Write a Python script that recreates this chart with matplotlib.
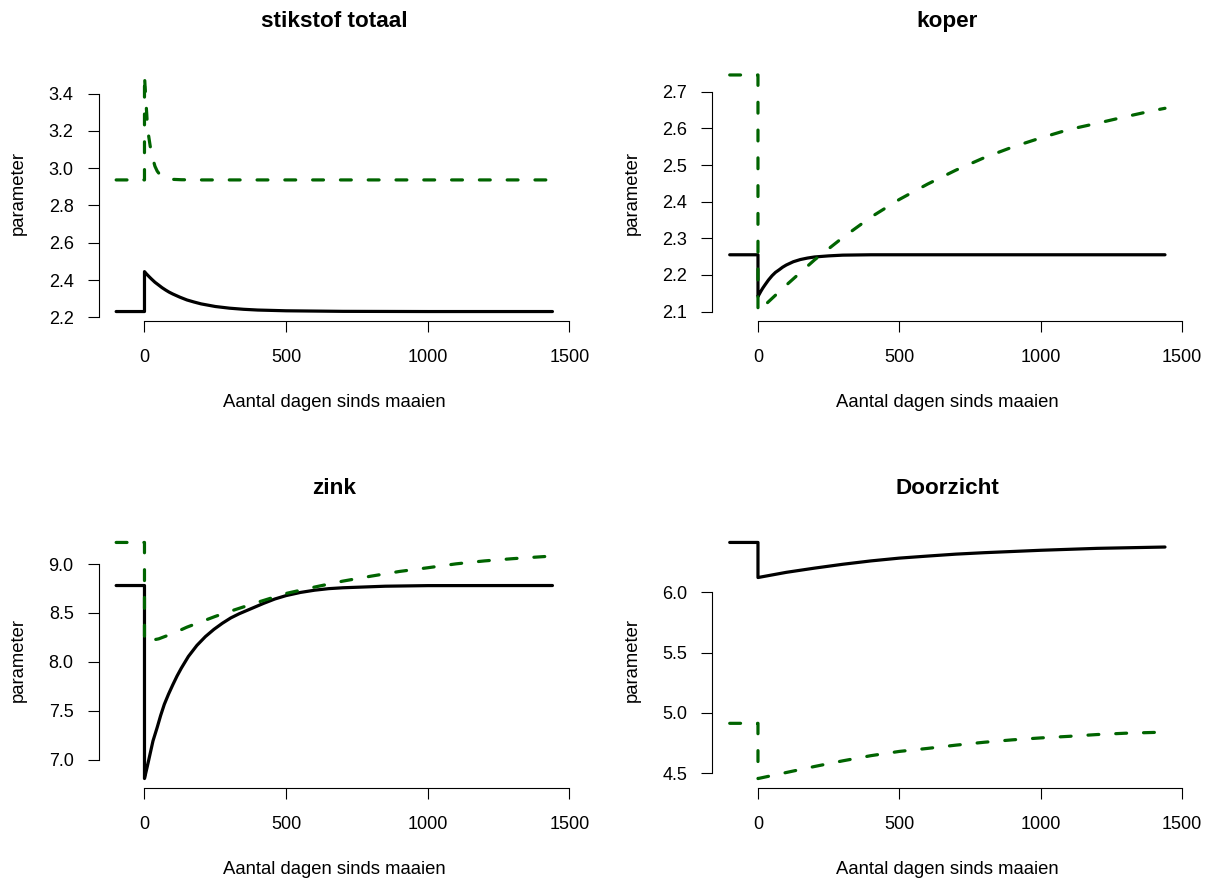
import matplotlib
matplotlib.use("Agg")
import matplotlib.pyplot as plt
from matplotlib.transforms import ScaledTranslation

plt.rcParams['font.family'] = ['Liberation Sans', 'DejaVu Sans']

# ---------------- data ----------------
titles = ["stikstof totaal", "koper", "zink", "Doorzicht"]
xlabel_text = "Aantal dagen sinds maaien"
ylabel_text = "parameter"
xticks = [0, 500, 1000, 1500]

# stikstof totaal
n_black_x = [-100, 0, 0, 5, 10, 17, 25, 37, 50, 62, 75, 87, 100, 125, 150, 175, 200, 250,
             300, 350, 400, 500, 700, 1000, 1440]
n_black_y = [2.231, 2.231, 2.445, 2.436, 2.428, 2.417, 2.405, 2.388, 2.373, 2.359, 2.346,
             2.335, 2.325, 2.308, 2.293, 2.282, 2.272, 2.258, 2.249, 2.243, 2.239, 2.235,
             2.232, 2.231, 2.231]
n_green_x = [-100, 0, 0, 3, 5, 8, 10, 15, 20, 25, 30, 37, 45, 52, 60, 70, 80, 100, 130,
             200, 1440]
n_green_y = [2.937, 2.937, 3.500, 3.410, 3.360, 3.290, 3.235, 3.170, 3.120, 3.080, 3.048,
             3.010, 2.984, 2.970, 2.958, 2.950, 2.944, 2.940, 2.938, 2.937, 2.937]
n_yticks = [2.2, 2.4, 2.6, 2.8, 3.0, 3.2, 3.4]

# koper
c_black_x = [-100, 0, 0, 5, 10, 17, 25, 37, 50, 62, 75, 87, 100, 125, 150, 175, 200, 250,
             300, 400, 1440]
c_black_y = [2.255, 2.255, 2.141, 2.148, 2.155, 2.164, 2.173, 2.186, 2.198, 2.207, 2.214,
             2.221, 2.227, 2.236, 2.242, 2.246, 2.249, 2.252, 2.254, 2.255, 2.255]
c_green_x = [-100, 0, 0, 100, 200, 300, 400, 500, 600, 700, 800, 900, 1000, 1100, 1200,
             1300, 1400, 1440]
c_green_y = [2.746, 2.746, 2.100, 2.172, 2.241, 2.302, 2.358, 2.406, 2.448, 2.486, 2.520,
             2.549, 2.574, 2.597, 2.614, 2.632, 2.649, 2.655]
c_yticks = [2.1, 2.2, 2.3, 2.4, 2.5, 2.6, 2.7]

# zink
z_black_x = [-100, 0, 0, 10, 20, 30, 45, 57, 70, 85, 100, 115, 130, 155, 185, 215, 245,
             275, 305, 335, 365, 420, 460, 500, 550, 600, 650, 700, 850, 1000, 1440]
z_black_y = [8.781, 8.781, 6.805, 6.930, 7.060, 7.190, 7.330, 7.450, 7.565, 7.670, 7.765,
             7.855, 7.935, 8.055, 8.168, 8.258, 8.332, 8.395, 8.450, 8.493, 8.530, 8.598,
             8.643, 8.678, 8.710, 8.733, 8.749, 8.758, 8.774, 8.780, 8.781]
z_green_x = [-100, 0, 0, 50, 100, 150, 200, 250, 300, 400, 500, 600, 700, 800, 900, 1000,
             1100, 1200, 1300, 1440]
z_green_y = [9.222, 9.222, 8.207, 8.235, 8.290, 8.355, 8.410, 8.465, 8.515, 8.610, 8.700,
             8.765, 8.826, 8.877, 8.925, 8.963, 9.003, 9.033, 9.056, 9.083]
z_yticks = [7.0, 7.5, 8.0, 8.5, 9.0]

# Doorzicht
d_black_x = [-100, 0, 0, 100, 200, 300, 400, 500, 600, 700, 800, 900, 1000, 1200, 1440]
d_black_y = [6.413, 6.413, 6.122, 6.165, 6.200, 6.232, 6.260, 6.283, 6.300, 6.316, 6.328,
             6.338, 6.348, 6.364, 6.375]
d_green_x = [-100, 0, 0, 100, 200, 300, 400, 500, 600, 700, 800, 900, 1000, 1100, 1200,
             1300, 1440]
d_green_y = [4.913, 4.913, 4.455, 4.505, 4.555, 4.602, 4.645, 4.680, 4.705, 4.732, 4.756,
             4.776, 4.792, 4.805, 4.820, 4.831, 4.840]
d_yticks = [4.5, 5.0, 5.5, 6.0]

panels = [
    (n_black_x, n_black_y, n_green_x, n_green_y, n_yticks),
    (c_black_x, c_black_y, c_green_x, c_green_y, c_yticks),
    (z_black_x, z_black_y, z_green_x, z_green_y, z_yticks),
    (d_black_x, d_black_y, d_green_x, d_green_y, d_yticks),
]

# ---------------- layout ----------------
W, H = 1214, 886
fig = plt.figure(figsize=(W / 100, H / 100), dpi=100)

# plot regions in pixels: (left, top, right, bottom)
regions = [
    (98.7, 65.5, 569.9, 321.0),
    (712.3, 65.5, 1182.4, 321.0),
    (98.7, 533.0, 569.9, 788.0),
    (712.3, 533.0, 1182.4, 788.0),
]

PX = 72 / 100  # points per pixel
tick_fs = 13.0
label_fs = 13.3
title_fs = 16.2
green = "#006400"

for (bx, by, gx, gy, yt), title, (l, t, r, b) in zip(panels, titles, regions):
    ax = fig.add_axes([l / W, 1 - b / H, (r - l) / W, (b - t) / H])
    ax.plot(bx, by, color="black", lw=2.3, solid_capstyle="round",
            solid_joinstyle="round")
    ax.plot(gx, gy, color=green, lw=2.3, dashes=(3.4, 5.3),
            dash_capstyle="round", dash_joinstyle="round")

    allx = bx + gx
    ally = by + gy
    xr = max(allx) - min(allx)
    yr = max(ally) - min(ally)
    ax.set_xlim(min(allx) - 0.04 * xr, max(allx) + 0.04 * xr)
    ax.set_ylim(min(ally) - 0.04 * yr, max(ally) + 0.04 * yr)

    ax.set_xticks(xticks)
    ax.set_xticklabels([str(v) for v in xticks])
    ax.set_yticks(yt)
    ax.set_yticklabels([f"{v:.1f}" for v in yt])

    for s in ("top", "right"):
        ax.spines[s].set_visible(False)
    ax.spines["left"].set_bounds(yt[0], yt[-1])
    ax.spines["bottom"].set_bounds(xticks[0], xticks[-1])
    for s in ("left", "bottom"):
        ax.spines[s].set_linewidth(0.8)
    ax.tick_params(axis="both", direction="out", length=11.5 * PX, width=0.8,
                   labelsize=tick_fs)
    ax.tick_params(axis="x", pad=16.5 * PX)
    ax.tick_params(axis="y", pad=13.5 * PX)

    # title (baseline 38.8 px above plot top)
    ax.text(0.5, 1.0, title, transform=ax.transAxes +
            ScaledTranslation(0, 38.8 / 100, fig.dpi_scale_trans),
            ha="center", va="baseline", fontsize=title_fs, fontweight="bold")
    # x label (baseline 86 px below plot bottom)
    ax.text(0.5, 0.0, xlabel_text, transform=ax.transAxes +
            ScaledTranslation(0, -86.3 / 100, fig.dpi_scale_trans),
            ha="center", va="baseline", fontsize=label_fs)
    # y label (baseline 75.5 px left of plot region)
    ax.text(0.0, 0.5, ylabel_text, transform=ax.transAxes +
            ScaledTranslation(-75.5 / 100, 0, fig.dpi_scale_trans),
            ha="center", va="baseline", rotation=90, rotation_mode="anchor",
            fontsize=label_fs)

fig.savefig("out.png", dpi=100)
